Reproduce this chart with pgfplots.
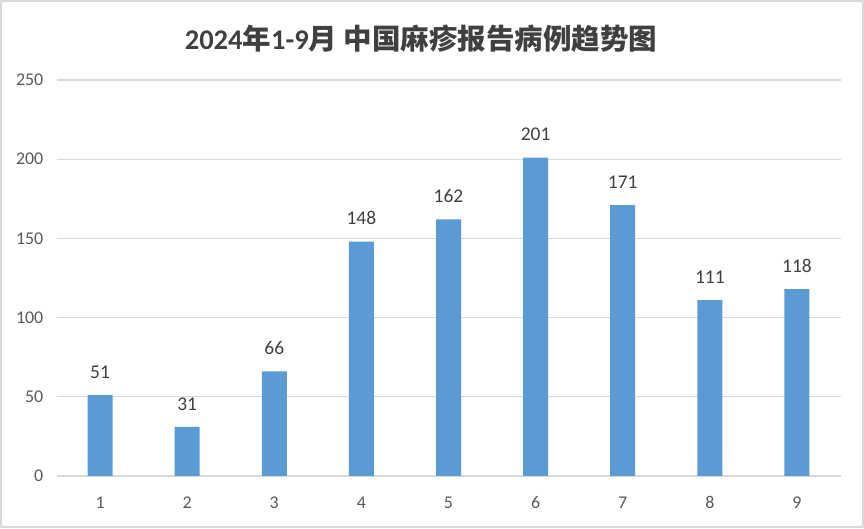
\documentclass[border=0pt]{standalone}
\usepackage{fontspec}
\setmainfont{Carlito}
\newfontfamily\cjk{Noto Sans CJK SC}
\usepackage{pgfplots}
\pgfplotsset{compat=1.18}
\definecolor{barblue}{HTML}{5B9BD5}
\definecolor{gridgray}{HTML}{D9D9D9}
\definecolor{ticktext}{HTML}{595959}
\definecolor{labeltext}{HTML}{404040}
\definecolor{titletext}{HTML}{404040}
\begin{document}
\begin{tikzpicture}[x=1bp,y=1bp]
\useasboundingbox (0,0) rectangle (864,529);
\draw[color=gridgray, line width=1.8bp] (0.9,2) rectangle (863.1,528.1);
\begin{axis}[at={(56.5bp,53bp)}, anchor=south west, scale only axis,
  width=784bp, height=396bp,
  ymin=0, ymax=250, xmin=0.5, xmax=9.5,
  ybar, bar width=25bp,
  ytick={0,50,...,250}, xtick={1,...,9},
  ymajorgrids, grid style={color=gridgray, line width=1.2bp},
  axis line style={draw=none}, major tick length=0pt, tick style={draw=none},
  ticklabel style={font=\fontsize{18}{20}\selectfont, text=ticktext},
  xticklabel style={anchor=north, inner sep=0pt, yshift=-20.5bp},
  yticklabel style={anchor=east, inner sep=0pt, xshift=-13bp},
  /pgf/number format/assume math mode=true,
  nodes near coords,
  nodes near coords style={anchor=south, inner sep=0pt, yshift=16.5bp, font=\fontsize{19.5}{22}\selectfont, text=labeltext},
]
\addplot[fill=barblue, draw=none] coordinates {(1,51) (2,31) (3,66) (4,148) (5,162) (6,201) (7,171) (8,111) (9,118)};
\end{axis}
\node[anchor=base, text=titletext, inner sep=0pt] at (421,479) {\fontsize{28.6}{32}\selectfont\bfseries 2024{\cjk 年}1-9{\cjk 月 中国麻疹报告病例趋势图}};
\end{tikzpicture}
\end{document}
